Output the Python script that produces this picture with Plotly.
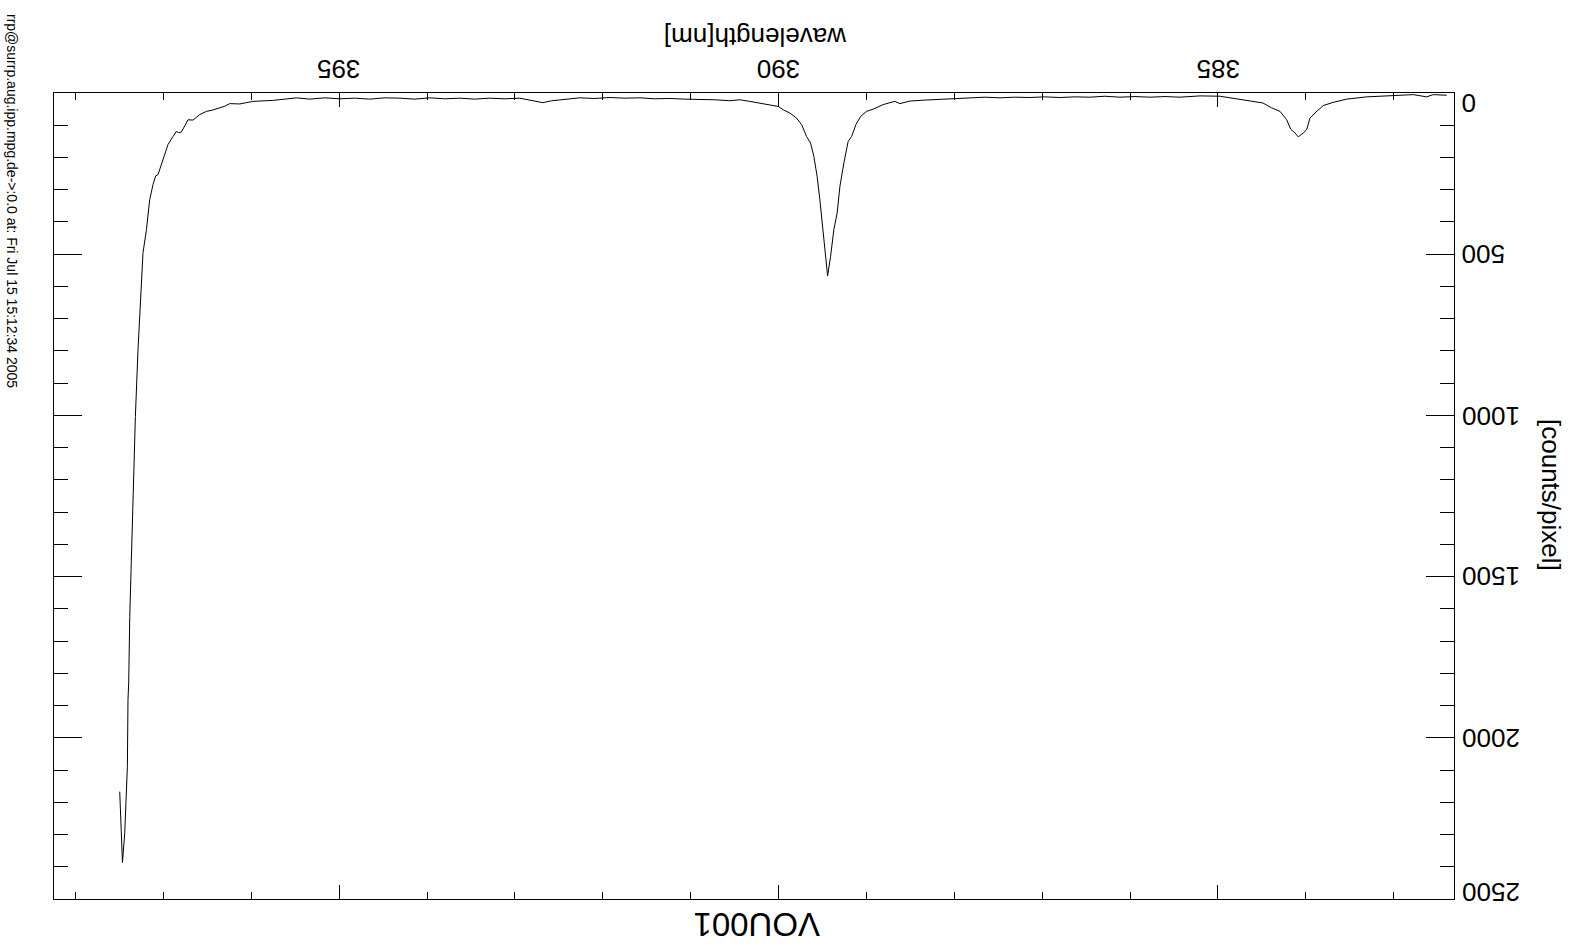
import plotly.graph_objects as go

# ---- data ----
wavelength_nm = [
    397.497, 397.466, 397.440, 397.410, 397.403, 397.395, 397.383, 397.364, 397.346, 397.319,
    397.289, 397.258, 397.232, 397.193, 397.156, 397.118, 397.088, 397.061, 397.034, 396.996,
    396.948, 396.891, 396.852, 396.826, 396.795, 396.720, 396.663, 396.587, 396.510, 396.439,
    396.359, 396.302, 396.245, 396.131, 395.983, 395.870, 395.756, 395.619, 395.486, 395.335,
    395.164, 394.993, 394.823, 394.652, 394.481, 394.310, 394.140, 393.969, 393.798, 393.627,
    393.457, 393.286, 393.115, 392.945, 392.774, 392.683, 392.580, 392.432, 392.262, 392.091,
    391.920, 391.750, 391.579, 391.408, 391.237, 391.067, 390.896, 390.725, 390.554, 390.441,
    390.327, 390.213, 390.099, 390.000, 389.948, 389.872, 389.795, 389.738, 389.681, 389.636,
    389.598, 389.561, 389.530, 389.499, 389.473, 389.442, 389.408, 389.371, 389.333, 389.302,
    389.257, 389.208, 389.169, 389.120, 389.067, 388.999, 388.923, 388.810, 388.733, 388.676,
    388.620, 388.506, 388.335, 388.164, 387.994, 387.823, 387.652, 387.481, 387.311, 387.140,
    386.969, 386.798, 386.628, 386.457, 386.286, 386.116, 385.945, 385.774, 385.603, 385.433,
    385.205, 384.977, 384.750, 384.602, 384.488, 384.389, 384.294, 384.218, 384.173, 384.124,
    384.086, 384.029, 383.991, 383.953, 383.896, 383.802, 383.688, 383.535, 383.308, 383.156,
    383.005, 382.777, 382.625, 382.550, 382.397,
]
counts_per_pixel = [
    2167, 2387, 2295, 2089, 1882, 1830, 1624, 1417, 1209, 1003,
    796, 641, 495, 424, 331, 284, 257, 253, 229, 195,
    160, 135, 119, 123, 121, 83, 84, 67, 57, 53,
    46, 41, 33, 34, 26, 25, 23, 19, 15, 19,
    15, 18, 16, 19, 15, 16, 19, 15, 18, 16,
    19, 16, 18, 16, 24, 30, 24, 19, 15, 17,
    14, 16, 15, 18, 17, 19, 19, 21, 24, 21,
    26, 31, 38, 42, 52, 62, 78, 98, 135, 155,
    197, 259, 331, 414, 496, 567, 507, 424, 372, 290,
    217, 150, 135, 98, 73, 57, 50, 36, 30, 26,
    33, 25, 22, 20, 16, 15, 13, 15, 13, 14,
    12, 14, 12, 13, 10, 13, 11, 13, 11, 13,
    9, 10, 19, 26, 31, 46, 57, 83, 112, 124,
    136, 124, 114, 78, 62, 39, 29, 19, 12, 10,
    8, 5, 12, 5, 7,
]
x_tick_vals = [395, 390, 385]
x_tick_text = ["395", "390", "385"]
y_tick_vals = [0, 500, 1000, 1500, 2000, 2500]
y_tick_text = ["0", "500", "1000", "1500", "2000", "2500"]

x_title = "wavelength[nm]"
y_title = "[counts/pixel]"
bottom_title = "VOU001"
stamp_text = "rrp@surrp.aug.ipp.mpg.de->:0.0 at: Fri Jul 15 15:12:34 2005"

# ---- layout geometry (pixels) ----
W, H = 1570, 951
L, R, T, B = 54, 1454, 93, 899
FONT = "Liberation Sans"


def px(xp):
    return (xp - L) / (R - L)


def py(yp):
    return (B - yp) / (B - T)


fig = go.Figure()
fig.add_trace(go.Scatter(
    x=wavelength_nm, y=counts_per_pixel, mode="lines",
    line=dict(color="black", width=1), showlegend=False, hoverinfo="skip",
))

annotations = [
    dict(text=x_title, xref="paper", yref="paper", x=px(755), y=py(37),
         showarrow=False, textangle=180, font=dict(size=26),
         xanchor="center", yanchor="middle"),
    dict(text=bottom_title, xref="paper", yref="paper", x=px(757), y=py(925),
         showarrow=False, textangle=180, font=dict(size=33),
         xanchor="center", yanchor="middle"),
    dict(text=y_title, xref="paper", yref="paper", x=px(1551), y=py(495),
         showarrow=False, textangle=90, font=dict(size=26),
         xanchor="center", yanchor="middle"),
    dict(text=stamp_text, xref="paper", yref="paper", x=px(12), y=py(201),
         showarrow=False, textangle=90, font=dict(size=14),
         xanchor="center", yanchor="middle"),
]
# upside-down tick labels
for v, t in zip(x_tick_vals, x_tick_text):
    annotations.append(dict(text=t, xref="x", yref="paper", x=v, y=py(69),
                            showarrow=False, textangle=180, font=dict(size=26),
                            xanchor="center", yanchor="middle"))
y_shift = {0: -10, 2500: 7}
for v, t in zip(y_tick_vals, y_tick_text):
    annotations.append(dict(text=t, xref="paper", yref="y", x=px(1460), y=v,
                            yshift=y_shift.get(v, 0),
                            showarrow=False, textangle=180, font=dict(size=26),
                            xanchor="left", yanchor="middle"))

fig.update_layout(
    width=W, height=H,
    margin=dict(l=L, r=W - R, t=T, b=H - B, pad=0),
    paper_bgcolor="white", plot_bgcolor="white",
    font=dict(family=FONT, color="black", size=26),
    xaxis=dict(
        range=[398.245, 382.314], side="top",
        tickmode="array", tickvals=x_tick_vals, showticklabels=False,
        ticks="inside", ticklen=14, tickwidth=1, tickcolor="black",
        minor=dict(dtick=1, tick0=0, ticks="inside", ticklen=7, tickwidth=1, tickcolor="black"),
        showline=True, linecolor="black", linewidth=1, mirror="ticks",
        showgrid=False, zeroline=False,
    ),
    yaxis=dict(
        range=[2500, 0], side="right",
        tickmode="array", tickvals=y_tick_vals, showticklabels=False,
        ticks="inside", ticklen=28, tickwidth=1, tickcolor="black",
        minor=dict(dtick=100, tick0=0, ticks="inside", ticklen=14, tickwidth=1, tickcolor="black"),
        showline=True, linecolor="black", linewidth=1, mirror="ticks",
        showgrid=False, zeroline=False,
    ),
    annotations=annotations,
)

fig.write_html("out.html")
